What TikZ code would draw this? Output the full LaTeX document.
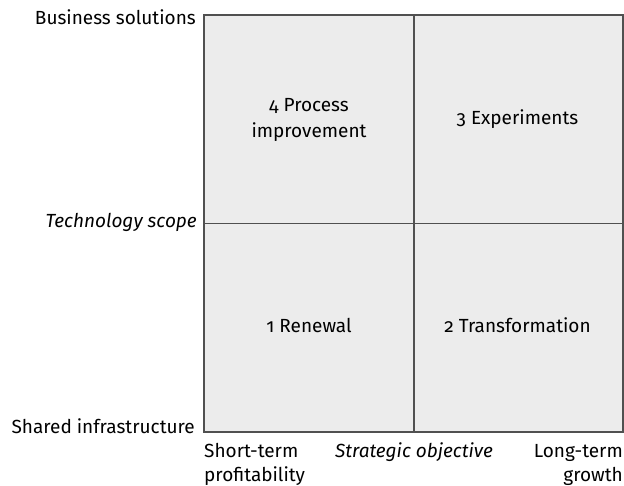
\documentclass[tikz,border=0pt]{standalone}
\usepackage{fontspec}
\setmainfont{Fira Sans}[Numbers=OldStyle]
\usetikzlibrary{positioning}
\definecolor{quadfill}{RGB}{236,236,236}
\definecolor{quadline}{RGB}{80,80,80}

\begin{document}
\begin{tikzpicture}[x=1pt,y=-1pt,
  every node/.style={font=\fontsize{19}{24}\selectfont, inner sep=0pt},
  quadtext/.style={align=center, anchor=base},
  sidetext/.style={anchor=base east}]
  \useasboundingbox (0,0) rectangle (624,486);

  % the square and its two dividers
  \coordinate (nw) at (204,15);
  \coordinate (se) at (623,432);
  \coordinate (midtop) at (414,15);
  \coordinate (midbot) at (414,432);
  \coordinate (midleft) at (204,223.5);
  \coordinate (midright) at (623,223.5);
  \filldraw[fill=quadfill, draw=quadline, line width=1.4pt] (nw) rectangle (se);
  \draw[quadline, line width=1.4pt] (midtop) -- (midbot);
  \draw[quadline, line width=1.4pt] (midleft) -- (midright);

  % quadrants (base = last line)
  \node[quadtext] (improve) at (309,138) {4 Process\\[2pt]improvement};
  \node[quadtext] (experim) at (517.5,125) {3 Experiments};
  \node[quadtext] (renewal) at (309,333) {1 Renewal};
  \node[quadtext] (transf) at (517.5,333) {2 Transformation};

  % vertical axis
  \node[sidetext] (bizsol) at (196,25) {Business solutions};
  \node[sidetext] (techscope) at (197,228) {\itshape Technology scope};
  \node[sidetext] (sharedinf) at (195,433) {Shared infrastructure};

  % horizontal axis
  \node[anchor=base west, align=left] (shortterm) at (204,481) {Short-term\\profitability};
  \node[anchor=base] (stratobj) at (414,457) {\itshape Strategic objective};
  \node[anchor=base east, align=right] (longterm) at (623,481) {Long-term\\growth};
\end{tikzpicture}
\end{document}
